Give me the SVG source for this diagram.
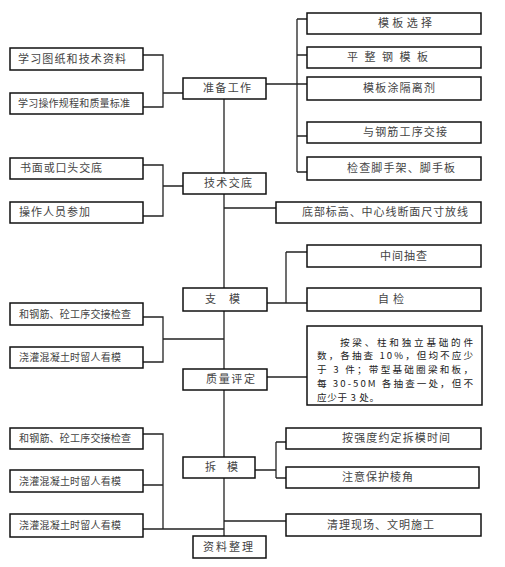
<svg xmlns="http://www.w3.org/2000/svg" width="505" height="567" viewBox="0 0 505 567">
<style>
rect{fill:#fff;stroke:#111;stroke-width:1.5}
.c path{fill:none;stroke:#222;stroke-width:1.3}
text{font-family:"Noto Sans CJK SC","Noto Sans",sans-serif;fill:#444;font-size:11px}
.s{font-size:10px}
.d{fill:#222;font-size:9.6px}
</style>
<rect x="0" y="0" width="505" height="567" style="fill:#fff;stroke:none"/>
<g class="c">
<path d="M143,55H163V107H143M163,93H183"/>
<path d="M143,165H163V216H143M163,186H183"/>
<path d="M143,317H163V362H143M163,339H224"/>
<path d="M143,434H163V529H143M143,485H163M163,529H224"/>
<path d="M224,99V173M224,194V288M224,311V369M224,390V457M224,478V536"/>
<path d="M224,208H276M224,521H286"/>
<path d="M266,84H307M297,19V172M297,19H307M297,55H307M297,136H307M297,172H307"/>
<path d="M267,303H307M286,252V303M286,252H307"/>
<path d="M267,377H307"/>
<path d="M255,470H276M276,442V478M276,442H286M276,478H286"/>
</g>
<g id="L1"><rect x="10" y="48" width="133" height="22"/><text x="18" y="63" textLength="108" lengthAdjust="spacing">学习图纸和技术资料</text></g>
<g id="L2"><rect x="10" y="93" width="133" height="21"/><text class="s" x="18" y="107" textLength="112" lengthAdjust="spacing">学习操作规程和质量标准</text></g>
<g id="L3"><rect x="10" y="158" width="133" height="21"/><text x="20" y="172" textLength="82" lengthAdjust="spacing">书面或口头交底</text></g>
<g id="L4"><rect x="10" y="202" width="133" height="21"/><text x="19" y="216" textLength="71" lengthAdjust="spacing">操作人员参加</text></g>
<g id="L5"><rect x="10" y="303" width="133" height="22"/><text class="s" x="19" y="318" textLength="112" lengthAdjust="spacing">和钢筋、砼工序交接检查</text></g>
<g id="L6"><rect x="10" y="347" width="133" height="21"/><text class="s" x="19" y="361" textLength="102" lengthAdjust="spacing">浇灌混凝土时留人看模</text></g>
<g id="L7"><rect x="10" y="428" width="133" height="21"/><text class="s" x="19" y="442" textLength="112" lengthAdjust="spacing">和钢筋、砼工序交接检查</text></g>
<g id="L8"><rect x="10" y="470" width="133" height="22"/><text class="s" x="19" y="485" textLength="102" lengthAdjust="spacing">浇灌混凝土时留人看模</text></g>
<g id="L9"><rect x="10" y="514" width="133" height="23"/><text class="s" x="19" y="529" textLength="102" lengthAdjust="spacing">浇灌混凝土时留人看模</text></g>
<g id="C1"><rect x="183" y="78" width="83" height="21"/><text x="203" y="92" textLength="48" lengthAdjust="spacing">准备工作</text></g>
<g id="C2"><rect x="183" y="173" width="83" height="21"/><text x="204" y="187" textLength="48" lengthAdjust="spacing">技术交底</text></g>
<g id="C3"><rect x="183" y="288" width="84" height="23"/><text x="205" y="303" textLength="35" lengthAdjust="spacing">支 模</text></g>
<g id="C4"><rect x="183" y="369" width="84" height="21"/><text x="206" y="383" textLength="49" lengthAdjust="spacing">质量评定</text></g>
<g id="C5"><rect x="183" y="457" width="72" height="21"/><text x="205" y="471" textLength="33" lengthAdjust="spacing">拆 模</text></g>
<g id="C6"><rect x="193" y="536" width="73" height="22"/><text x="203" y="551" textLength="50" lengthAdjust="spacing">资料整理</text></g>
<g id="R1"><rect x="307" y="13" width="174" height="21"/><text x="378" y="27" textLength="54" lengthAdjust="spacing">模板选择</text></g>
<g id="R2"><rect x="307" y="47" width="174" height="21"/><text x="347" y="61" textLength="81" lengthAdjust="spacing">平 整 钢 模 板</text></g>
<g id="R3"><rect x="307" y="77" width="174" height="23"/><text x="363" y="92" textLength="72" lengthAdjust="spacing">模板涂隔离剂</text></g>
<g id="R4"><rect x="307" y="122" width="174" height="21"/><text x="363" y="136" textLength="84" lengthAdjust="spacing">与钢筋工序交接</text></g>
<g id="R5"><rect x="307" y="157" width="174" height="23"/><text x="347" y="172" textLength="108" lengthAdjust="spacing">检查脚手架、脚手板</text></g>
<g id="R6"><rect x="276" y="202" width="205" height="21"/><text x="302" y="216" textLength="166" lengthAdjust="spacing">底部标高、中心线断面尺寸放线</text></g>
<g id="R7"><rect x="307" y="245" width="174" height="22"/><text x="380" y="260" textLength="47" lengthAdjust="spacing">中间抽查</text></g>
<g id="R8"><rect x="307" y="288" width="174" height="23"/><text x="378" y="303" textLength="26" lengthAdjust="spacing">自 检</text></g>
<g id="R9"><rect x="307" y="326" width="175" height="79"/>
<text class="d"><tspan x="340" y="345.5" textLength="133" lengthAdjust="spacing">按梁、柱和独立基础的件</tspan><tspan x="317" y="359.4" textLength="156" lengthAdjust="spacing">数，各抽查 10%，但均不应少</tspan><tspan x="317" y="373.3" textLength="156" lengthAdjust="spacing">于 3 件；带型基础圈梁和板，</tspan><tspan x="317" y="387.2" textLength="156" lengthAdjust="spacing">每 30-50M 各抽查一处，但不</tspan><tspan x="317" y="401.1" textLength="62" lengthAdjust="spacing">应少于 3 处。</tspan></text></g>
<g id="R10"><rect x="286" y="428" width="195" height="21"/><text x="342" y="442" textLength="108" lengthAdjust="spacing">按强度约定拆模时间</text></g>
<g id="R11"><rect x="286" y="467" width="193" height="21"/><text x="342" y="481" textLength="71" lengthAdjust="spacing">注意保护棱角</text></g>
<g id="R12"><rect x="286" y="514" width="195" height="22"/><text x="327" y="529" textLength="107" lengthAdjust="spacing">清理现场、文明施工</text></g>
</svg>
